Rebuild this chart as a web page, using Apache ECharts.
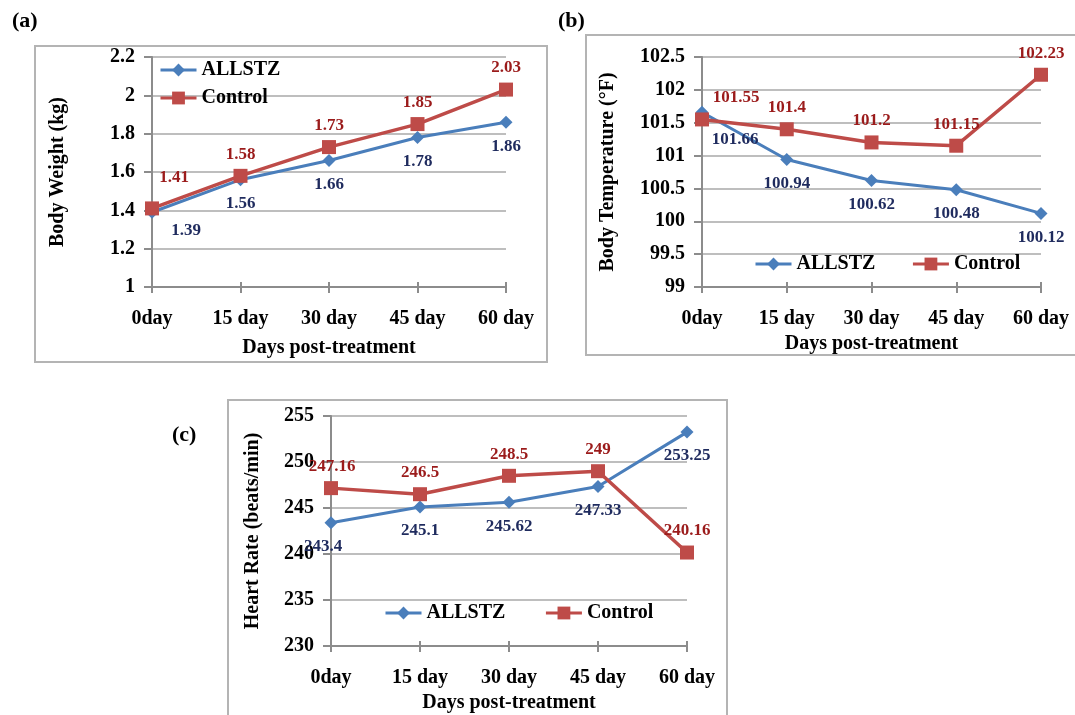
<!DOCTYPE html>
<html>
<head>
<meta charset="utf-8">
<script src="https://cdn.jsdelivr.net/npm/echarts/dist/echarts.min.js"></script>
<style>
  html, body { margin: 0; padding: 0; background: #ffffff; }
  #chart { width: 1075px; height: 715px; }
</style>
</head>
<body>
<div id="chart"></div>
<script>
// Shared categories
const days = ['0day', '15 day', '30 day', '45 day', '60 day'];

// (a) Body weight, kg
const weightAllstz = [1.39, 1.56, 1.66, 1.78, 1.86];
const weightControl = [1.41, 1.58, 1.73, 1.85, 2.03];

// (b) Body temperature, °F
const tempAllstz = [101.66, 100.94, 100.62, 100.48, 100.12];
const tempControl = [101.55, 101.4, 101.2, 101.15, 102.23];

// (c) Heart rate, beats/min
const heartAllstz = [243.4, 245.1, 245.62, 247.33, 253.25];
const heartControl = [247.16, 246.5, 248.5, 249, 240.16];

const FONT = '"Liberation Serif", "Times New Roman", serif';
const BLUE = '#4a7ebb';
const RED = '#be4b48';
const NAVY_TEXT = '#1f2b5e';
const RED_TEXT = '#9b1b1b';
const AXIS_GRAY = '#8c8c8c';
const GRID_GRAY = '#a8a8a8';

// Layout of the three panels
const panels = [
  {
    tag: '(a)', tagPos: [12, 10],
    box: { x: 35, y: 46, width: 512, height: 316 },
    grid: { left: 152, top: 57, width: 354, height: 230 },
    y: { min: 1, max: 2.2, interval: 0.2, name: 'Body Weight (kg)', nameGap: 84 },
    xNameGap: 51,
    allstz: weightAllstz, control: weightControl,
    legend: { left: 159, top: 60, orient: 'vertical', itemGap: 8 },
    nudgeAllstz: [[34, -6], null, null, null, null],
    nudgeControl: [[22, -9], null, null, null, null]
  },
  {
    tag: '(b)', tagPos: [558, 10],
    box: { x: 586, y: 35, width: 500, height: 320 },
    grid: { left: 702, top: 57, width: 339, height: 230 },
    y: { min: 99, max: 102.5, interval: 0.5, name: 'Body Temperature (°F)', nameGap: 84 },
    xNameGap: 47,
    allstz: tempAllstz, control: tempControl,
    legend: { left: 754, top: 254, orient: 'horizontal', itemGap: 36 },
    nudgeAllstz: [[33, 3], null, null, null, null],
    nudgeControl: [[34, 0], null, null, null, null]
  },
  {
    tag: '(c)', tagPos: [172, 424],
    box: { x: 228, y: 400, width: 499, height: 330 },
    grid: { left: 331, top: 416, width: 356, height: 230 },
    y: { min: 230, max: 255, interval: 5, name: 'Heart Rate (beats/min)', nameGap: 68 },
    xNameGap: 47,
    allstz: heartAllstz, control: heartControl,
    legend: { left: 384, top: 603, orient: 'horizontal', itemGap: 39 },
    nudgeAllstz: [[-8, 0], null, null, null, null],
    nudgeControl: [[1, 0], null, null, null, null]
  }
];

const boldText = (size, color) => ({
  fontFamily: FONT, fontWeight: 'bold', fontSize: size, color: color || '#000'
});

function buildData(values, nudges) {
  return values.map((v, i) => nudges[i] ? { value: v, label: { offset: nudges[i] } } : v);
}

const option = {
  animation: false,
  backgroundColor: '#ffffff',
  grid: [], xAxis: [], yAxis: [], series: [], legend: [], graphic: []
};

panels.forEach((p, idx) => {
  option.graphic.push({
    type: 'rect', silent: true, z: -10,
    shape: p.box,
    style: { fill: '#ffffff', stroke: '#b4b4b4', lineWidth: 2 }
  });
  option.graphic.push({
    type: 'text', left: p.tagPos[0], top: p.tagPos[1],
    style: { text: p.tag, font: 'bold 22px ' + FONT, fill: '#000' }
  });

  option.grid.push(Object.assign({ containLabel: false }, p.grid));

  option.xAxis.push({
    type: 'category', gridIndex: idx, data: days, boundaryGap: false,
    name: 'Days post-treatment', nameLocation: 'middle', nameGap: p.xNameGap,
    nameTextStyle: boldText(20),
    axisLine: { lineStyle: { color: AXIS_GRAY, width: 2 } },
    axisTick: { show: true, length: 6, lineStyle: { color: AXIS_GRAY, width: 2 } },
    axisLabel: Object.assign({ margin: 22, interval: 0 }, boldText(20)),
    splitLine: { show: false }
  });

  option.yAxis.push({
    type: 'value', gridIndex: idx,
    min: p.y.min, max: p.y.max, interval: p.y.interval,
    name: p.y.name, nameLocation: 'middle', nameGap: p.y.nameGap, nameRotate: 90,
    nameTextStyle: boldText(20),
    axisLine: { show: true, lineStyle: { color: AXIS_GRAY, width: 2 } },
    axisTick: { show: true, length: 8, lineStyle: { color: AXIS_GRAY, width: 2 } },
    axisLabel: Object.assign({ margin: 17 }, boldText(20)),
    splitLine: { show: true, lineStyle: { color: GRID_GRAY, width: 1.5 } }
  });

  option.series.push({
    type: 'line', name: 'ALLSTZ', xAxisIndex: idx, yAxisIndex: idx,
    data: buildData(p.allstz, p.nudgeAllstz),
    symbol: 'diamond', symbolSize: 13,
    lineStyle: { color: BLUE, width: 3 },
    itemStyle: { color: BLUE },
    label: Object.assign({ show: true, position: 'bottom', distance: 9 }, boldText(17, NAVY_TEXT)),
    z: 3
  });
  option.series.push({
    type: 'line', name: 'Control', xAxisIndex: idx, yAxisIndex: idx,
    data: buildData(p.control, p.nudgeControl),
    symbol: 'rect', symbolSize: 14,
    lineStyle: { color: RED, width: 3.5 },
    itemStyle: { color: RED },
    label: Object.assign({ show: true, position: 'top', distance: 6 }, boldText(17, RED_TEXT)),
    z: 4
  });

  option.legend.push({
    data: ['ALLSTZ', 'Control'],
    left: p.legend.left, top: p.legend.top, orient: p.legend.orient,
    itemGap: p.legend.itemGap, itemWidth: 36, itemHeight: 16,
    padding: 0,
    lineStyle: { width: 3 },
    textStyle: boldText(20),
    selectedMode: false
  });
});

// Companion category axes: short inward ticks so each x tick crosses the axis line
panels.forEach((p, idx) => {
  option.xAxis.push({
    type: 'category', gridIndex: idx, data: days, boundaryGap: false,
    position: 'bottom', silent: true,
    axisLine: { show: false },
    axisTick: { show: true, inside: true, length: 5, lineStyle: { color: AXIS_GRAY, width: 2 } },
    axisLabel: { show: false },
    splitLine: { show: false }
  });
});

const chart = echarts.init(document.getElementById('chart'), null, { renderer: 'canvas' });
chart.setOption(option);
</script>
</body>
</html>
